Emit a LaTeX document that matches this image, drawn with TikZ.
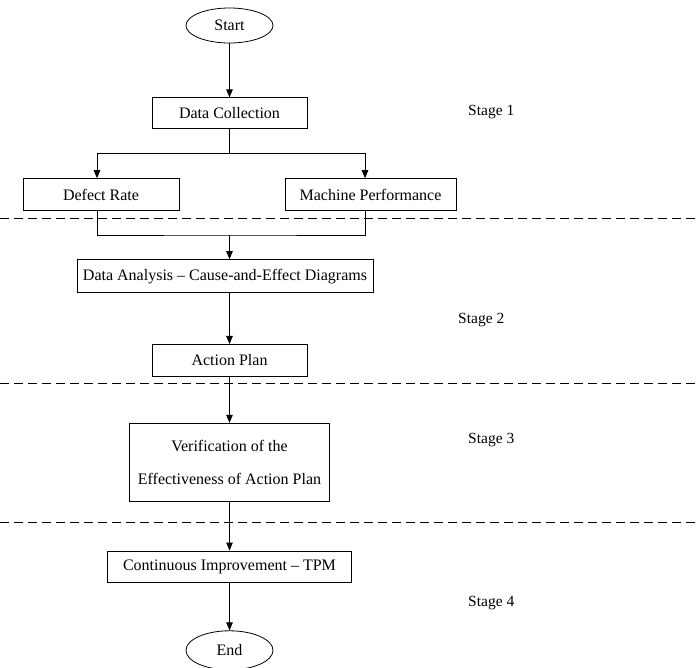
\documentclass[tikz,border=0pt]{standalone}
\usepackage{fontspec}
\setmainfont{Liberation Serif}
\usepackage{tikz}
\usetikzlibrary{positioning, calc, shapes.geometric, arrows.meta}

\begin{document}
\begin{tikzpicture}[
    x=1pt, y=1pt,
    node distance=48pt,
    box/.style={rectangle, draw, line width=0.8pt, minimum height=31pt, inner sep=0pt, align=center, font=\fontsize{16}{33}\selectfont},
    term/.style={ellipse, draw, line width=0.8pt, minimum width=87pt, minimum height=35pt, inner sep=0pt, font=\fontsize{16}{19}\selectfont},
    stage/.style={anchor=west, inner sep=0pt, font=\fontsize{15.5}{19}\selectfont},
    sep/.style={dash pattern=on 9pt off 5pt, line width=0.8pt},
    arrow/.style={-{Triangle[length=8pt, width=6.5pt]}, line width=0.8pt}
]
    \useasboundingbox (0,0) rectangle (699,-668);

    \node[term] (start) at (229.5,-25.5) {Start};
    \node[box, minimum width=155pt, below=54pt of start] (datacol) {Data Collection};
    \node[box, minimum width=156pt, minimum height=32pt, below=49pt of datacol, xshift=-128.5pt] (defect) {Defect Rate};
    \node[box, minimum width=171pt, minimum height=32pt, below=49pt of datacol, xshift=141pt] (machine) {Machine Performance};
    \node[box, minimum width=296pt, minimum height=33pt, below=130pt of datacol, xshift=-4.5pt] (analysis) {Data Analysis -- Cause-and-Effect Diagrams};
    \node[box, minimum width=155pt, minimum height=32pt, below=51pt of analysis, xshift=4.5pt] (action) {Action Plan};
    \node[box, minimum width=200pt, minimum height=78pt, below=46pt of action] (verify) {Verification of the\\Effectiveness of Action Plan};
    \node[box, minimum width=244pt, below=49pt of verify] (improve) {Continuous Improvement -- TPM};
    \node[term, minimum height=39pt, below=48pt of improve] (end) {End};

    \coordinate (split) at ($(datacol.south)+(0,-24)$);
    \coordinate (merge) at ($(start |- defect.south)+(0,-24)$);

    % stages
    \node[stage] (stage1) at (468,-112) {Stage 1};
    \node[stage] (stage2) at (458,-320) {Stage 2};
    \node[stage] (stage3) at (468,-440) {Stage 3};
    \node[stage] (stage4) at (468,-603) {Stage 4};

    \draw[sep] (0,-218) -- (699,-218);
    \draw[sep] (0,-383) -- (699,-383);
    \draw[sep] (0,-522) -- (699,-522);

    \draw[arrow] (start) -- (datacol);
    \draw[line width=0.8pt] (datacol) -- (split);
    \draw[arrow] (split) -| ([xshift=-4pt]defect.north);
    \draw[arrow] (split) -| ([xshift=-5.5pt]machine.north);
    \draw[line width=0.8pt] ([xshift=-4pt]defect.south) |- (merge) -| ([xshift=-5.5pt]machine.south);
    \draw[arrow] (merge) -- (merge |- analysis.north);
    \draw[arrow] (action.north |- analysis.south) -- (action);
    \draw[arrow] (action) -- (verify);
    \draw[arrow] (verify) -- (improve);
    \draw[arrow] (improve) -- (end);
\end{tikzpicture}
\end{document}
